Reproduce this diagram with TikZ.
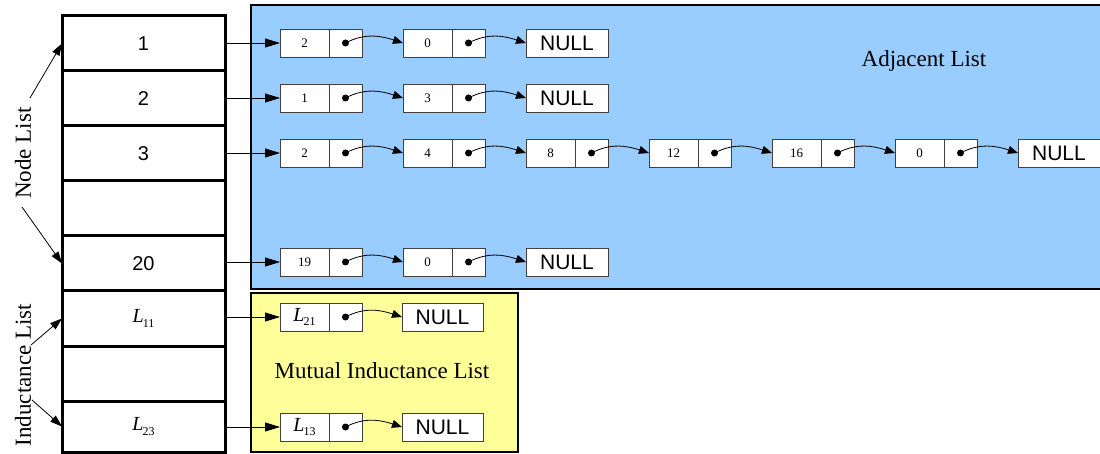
\documentclass[tikz,border=0pt]{standalone}
\usepackage{fontspec}
\setmainfont{Liberation Serif}
\newfontfamily\arialfont{Liberation Sans}
\usetikzlibrary{arrows.meta}
\definecolor{adjblue}{HTML}{99CCFF}
\definecolor{mutyellow}{HTML}{FFFF99}

% inductance symbol with a numeric subscript
\newcommand\Lsub[1]{{\rmfamily\fontsize{20}{20}\selectfont\itshape L\kern-1pt\upshape\raisebox{-0.5ex}{\fontsize{12}{12}\selectfont #1}}}

% one list element: value cell, pointer cell and its dot
\newcommand\cellpair[4]{%
  \node[valcell] (#1v) at (#2,#3) {#4};
  \node[ptrcell] (#1p) at (#1v.east) {};
  \fill (#1p.center) circle (3.5pt);
}

\begin{document}
\begin{tikzpicture}[x=1pt,y=-1pt,
  slot/.style={draw=black,line width=3pt,fill=white,minimum width=163pt,minimum height=55pt,
    inner sep=0pt,outer sep=0pt,anchor=north west,font=\arialfont\fontsize{20}{20}\selectfont},
  valcell/.style={draw=black!75,line width=0.8pt,fill=white,minimum width=49pt,minimum height=28pt,
    inner sep=0pt,outer sep=0pt,anchor=west,font=\fontsize{13}{13}\selectfont},
  ptrcell/.style={draw=black!75,line width=0.8pt,fill=white,minimum width=33pt,minimum height=28pt,
    inner sep=0pt,outer sep=0pt,anchor=west},
  nullcell/.style={draw=black!75,line width=0.8pt,fill=white,minimum width=82pt,minimum height=28pt,
    inner sep=0pt,outer sep=0pt,anchor=west,font=\arialfont\fontsize{21}{21}\selectfont},
  headlink/.style={-{Triangle[length=15pt,width=9pt]},line width=0.8pt},
  nextlink/.style={-{Triangle[length=10pt,width=8pt]},line width=0.8pt},
  tag/.style={-{Triangle[length=12pt,width=8pt]},line width=0.8pt},
  title/.style={font=\fontsize{23}{23}\selectfont}]

\useasboundingbox (0,0) rectangle (1100,454);

% background regions
\fill[adjblue] (251,5) rectangle (1102,289);
\draw[line width=2pt] (1102,5) -- (251,5) -- (251,289) -- (1102,289);
\fill[mutyellow] (251,293) rectangle (518,452);
\draw[line width=2pt] (251,293) rectangle (518,452);

\node[title] (adjtitle) at (924,61) {Adjacent List};
\node[title] (muttitle) at (382,371) {Mutual Inductance List};

% node list column
\node[slot] (n1) at (62,16) {1};
\node[slot] (n2) at (62,71) {2};
\node[slot] (n3) at (62,126) {3};
\node[slot] (n4) at (62,181) {};
\node[slot] (n5) at (62,236) {20};
\node[slot] (n6) at (62,291) {\Lsub{11}};
\node[slot] (n7) at (62,346) {};
\node[slot,minimum height=51pt] (n8) at (62,401) {\Lsub{23}};

% adjacency lists
\cellpair{a1}{280}{43}{2}
\cellpair{a2}{403}{43}{0}
\node[nullcell] (an) at (526,43) {NULL};

\cellpair{b1}{280}{98}{1}
\cellpair{b2}{403}{98}{3}
\node[nullcell] (bn) at (526,98) {NULL};

\cellpair{c1}{280}{153}{2}
\cellpair{c2}{403}{153}{4}
\cellpair{c3}{526}{153}{8}
\cellpair{c4}{649}{153}{12}
\cellpair{c5}{772}{153}{16}
\cellpair{c6}{895}{153}{0}
\node[nullcell] (cn) at (1018,153) {NULL};

\cellpair{d1}{280}{262}{19}
\cellpair{d2}{403}{262}{0}
\node[nullcell] (dn) at (526,262) {NULL};

% mutual inductance lists
\cellpair{e1}{280}{317}{\Lsub{21}}
\node[nullcell,minimum width=81pt] (en) at (402,317) {NULL};
\cellpair{f1}{280}{427}{\Lsub{13}}
\node[nullcell,minimum width=81pt] (fn) at (402,427) {NULL};

% head pointers
\foreach \s/\t in {n1/a1,n2/b1,n3/c1,n5/d1,n6/e1,n8/f1}
  \draw[headlink] (\s.east |- \t v.west) -- (\t v.west);

% next pointers
\foreach \s/\t in {a1p/a2v.west,a2p/an.west,b1p/b2v.west,b2p/bn.west,
                   c1p/c2v.west,c2p/c3v.west,c3p/c4v.west,c4p/c5v.west,c5p/c6v.west,c6p/cn.west,
                   d1p/d2v.west,d2p/dn.west,e1p/en.west,f1p/fn.west}
  \draw[nextlink] (\s.center) to[out=28,in=162] (\t);

% side labels
\node[title,rotate=90] (nodelabel) at (23,153) {Node List};
\coordinate (nlup) at (30,98);
\coordinate (nldown) at (22,207);
\draw[tag] (nlup) -- (n1.west);
\draw[tag] (nldown) -- (n5.west);

\node[title,rotate=90] (indlabel) at (23,375) {Inductance List};
\coordinate (indup) at (31,345);
\coordinate (inddown) at (32,400);
\draw[tag] (indup) -- (n6.west);
\draw[tag] (inddown) -- (n8.west);
\end{tikzpicture}
\end{document}
